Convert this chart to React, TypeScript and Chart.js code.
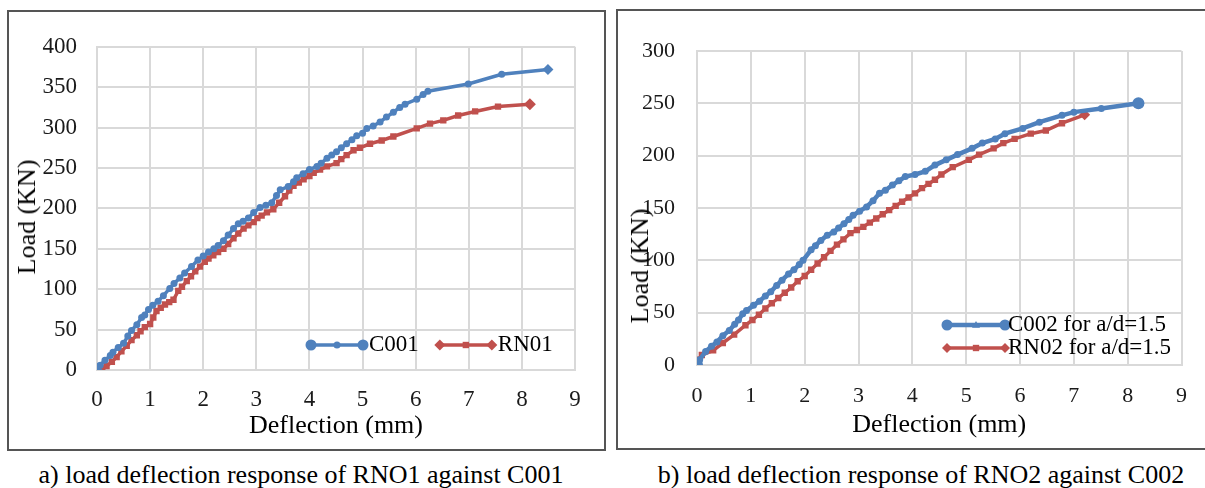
import React, { useEffect, useRef } from 'react';
import { Chart, registerables } from 'chart.js';

Chart.register(...registerables);

const FONT = '"Liberation Serif", "Times New Roman", serif';

// ---------- Chart a) RN01 against C001 ----------
const c001Deflection = [0, 0.06, 0.15, 0.25, 0.3, 0.4, 0.5, 0.58, 0.65, 0.75, 0.84, 0.9, 0.97, 1.05, 1.15, 1.25, 1.37, 1.45, 1.56, 1.65, 1.78, 1.9, 2.0, 2.1, 2.2, 2.28, 2.38, 2.47, 2.57, 2.66, 2.75, 2.85, 2.95, 3.07, 3.18, 3.29, 3.38, 3.45, 3.6, 3.7, 3.76, 3.88, 4.0, 4.14, 4.22, 4.33, 4.42, 4.51, 4.6, 4.7, 4.8, 4.89, 5.0, 5.08, 5.2, 5.33, 5.45, 5.58, 5.7, 5.8, 6.02, 6.14, 6.23, 6.99, 7.62, 8.49];
const c001Load = [0, 6, 12, 18, 22, 28, 33, 42, 49, 56, 65, 68, 75, 80, 85, 92, 101, 107, 114, 120, 128, 136, 141, 146, 150, 154, 160, 167, 175, 181, 184, 188, 195, 201, 204, 207, 216, 223, 227, 233, 238, 243, 248, 252, 256, 262, 266, 270, 275, 280, 285, 290, 293, 299, 302, 307, 313, 319, 325, 329, 335, 341, 345, 354, 366, 372];
const rn01Deflection = [0, 0.1, 0.18, 0.28, 0.37, 0.46, 0.56, 0.65, 0.75, 0.82, 0.9, 1.0, 1.06, 1.12, 1.2, 1.28, 1.36, 1.44, 1.53, 1.6, 1.69, 1.77, 1.85, 1.94, 2.03, 2.1, 2.19, 2.28, 2.38, 2.47, 2.57, 2.66, 2.76, 2.85, 2.95, 3.02, 3.1, 3.2, 3.32, 3.43, 3.54, 3.62, 3.7, 3.8, 3.89, 4.0, 4.08, 4.2, 4.33, 4.51, 4.6, 4.7, 4.83, 4.95, 5.14, 5.36, 5.58, 6.02, 6.27, 6.52, 6.8, 7.12, 7.55, 8.15];
const rn01Load = [0, 2, 5, 10, 16, 23, 30, 37, 43, 48, 53, 57, 65, 73, 77, 81, 84, 87, 98, 103, 110, 116, 122, 128, 134, 138, 142, 146, 150, 156, 163, 169, 175, 179, 183, 188, 191, 195, 199, 207, 215, 222, 228, 232, 236, 240, 244, 248, 252, 256, 261, 266, 272, 275, 280, 284, 289, 299, 305, 309, 315, 320, 326, 329];

// ---------- Chart b) RN02 against C002 ----------
const c002Deflection = [0, 0.05, 0.16, 0.27, 0.37, 0.48, 0.6, 0.7, 0.77, 0.85, 0.92, 1.05, 1.16, 1.27, 1.37, 1.48, 1.58, 1.7, 1.8, 1.9, 1.97, 2.12, 2.2, 2.3, 2.42, 2.54, 2.63, 2.73, 2.82, 2.9, 3.02, 3.15, 3.27, 3.39, 3.5, 3.63, 3.75, 3.87, 4.05, 4.24, 4.42, 4.63, 4.84, 5.11, 5.3, 5.54, 5.72, 6.05, 6.36, 6.78, 7.0, 7.51, 8.2];
const c002Load = [0, 5, 13, 18, 22, 28, 33, 39, 43, 49, 52, 57, 61, 66, 70, 76, 81, 87, 91, 96, 100, 110, 114, 119, 124, 127, 131, 135, 139, 143, 147, 151, 157, 164, 167, 172, 176, 180, 182, 185, 191, 196, 201, 207, 212, 216, 221, 226, 232, 238.5, 241.6, 245, 250];
const rn02Deflection = [0, 0.03, 0.09, 0.3, 0.48, 0.69, 0.9, 1.03, 1.15, 1.27, 1.39, 1.51, 1.63, 1.75, 1.87, 2.0, 2.12, 2.24, 2.36, 2.48, 2.6, 2.72, 2.85, 2.97, 3.09, 3.21, 3.33, 3.45, 3.57, 3.69, 3.81, 3.93, 4.05, 4.18, 4.3, 4.42, 4.54, 4.75, 5.05, 5.24, 5.51, 5.69, 5.9, 6.2, 6.48, 6.78, 7.2];
const rn02Load = [0, 5, 9.5, 14, 21, 29, 38, 43, 48, 54, 59, 64, 69, 74, 80, 85, 91, 97, 103, 109, 115, 120, 126, 129, 132, 136, 140, 144, 148, 152, 156, 160, 164, 169, 173, 177, 182, 189, 196, 201, 207, 212, 216, 221, 224, 231, 239];

const seriesLabelsA = ['C001', 'RN01'];
const seriesLabelsB = ['C002 for a/d=1.5', 'RN02 for a/d=1.5'];
const xAxisTitle = 'Deflection (mm)';
const yAxisTitle = 'Load (KN)';
const captionA = 'a) load deflection response of RNO1 against C001';
const captionB = 'b) load deflection response of RNO2 against C002';

const BLUE = '#4F81BD';
const RED = '#C0504D';
const GRID = '#D9D9D9';

const toPoints = (xs: number[], ys: number[]) => xs.map((x, i) => ({ x, y: ys[i] }));

function drawMarker(ctx: CanvasRenderingContext2D, style: string, x: number, y: number, r: number, color: string) {
  ctx.save();
  ctx.fillStyle = color;
  ctx.beginPath();
  if (style === 'circle') {
    ctx.arc(x, y, r, 0, Math.PI * 2);
  } else if (style === 'rectRot') {
    ctx.moveTo(x, y - r);
    ctx.lineTo(x + r, y);
    ctx.lineTo(x, y + r);
    ctx.lineTo(x - r, y);
    ctx.closePath();
  } else if (style === 'triangle') {
    ctx.moveTo(x, y - r);
    ctx.lineTo(x + r, y + r * 0.7);
    ctx.lineTo(x - r, y + r * 0.7);
    ctx.closePath();
  } else {
    const s = r * Math.SQRT1_2;
    ctx.rect(x - s, y - s, 2 * s, 2 * s);
  }
  ctx.fill();
  ctx.restore();
}

const insideLegend = {
  id: 'insideLegend',
  afterDraw(chart: any, _args: any, opts: any) {
    if (!opts || !opts.items) return;
    const ctx: CanvasRenderingContext2D = chart.ctx;
    const datasets = chart.data.datasets;
    ctx.save();
    ctx.font = `${opts.fontSize}px ${FONT}`;
    ctx.textBaseline = 'middle';
    ctx.textAlign = 'left';
    let x = opts.x;
    let y = opts.y;
    datasets.forEach((d: any, i: number) => {
      const item = opts.items[i];
      const x0 = x;
      const x1 = x + opts.lineLength;
      ctx.strokeStyle = d.borderColor;
      ctx.lineWidth = d.borderWidth;
      ctx.beginPath();
      ctx.moveTo(x0, y);
      ctx.lineTo(x1, y);
      ctx.stroke();
      drawMarker(ctx, item.cap, x0, y, item.capRadius, d.borderColor);
      drawMarker(ctx, item.cap, x1, y, item.capRadius, d.borderColor);
      drawMarker(ctx, item.mid, (x0 + x1) / 2, y, item.midRadius, d.borderColor);
      ctx.fillStyle = opts.color;
      const tx = x1 + opts.gap;
      ctx.fillText(d.label, tx, y);
      const w = ctx.measureText(d.label).width;
      if (opts.direction === 'row') {
        x = tx + w + opts.itemGap;
      } else {
        y += opts.rowHeight;
      }
    });
    ctx.restore();
  },
};

function makeDataset(label: string, xs: number[], ys: number[], color: string, width: number, mid: string, midR: number, cap: string, capR: number) {
  const n = xs.length;
  const isEnd = (c: any) => c.dataIndex === 0 || c.dataIndex === n - 1;
  return {
    label,
    data: toPoints(xs, ys),
    borderColor: color,
    backgroundColor: color,
    borderWidth: width,
    showLine: true,
    tension: 0,
    pointStyle: (c: any) => (isEnd(c) ? cap : mid),
    pointRadius: (c: any) => (isEnd(c) ? capR : midR),
    pointBorderWidth: 0,
    pointBackgroundColor: color,
  };
}

interface ChartSpec {
  yWidth: number;
  xHeight: number;
  padding: { left: number; top: number; right: number; bottom: number };
  yMax: number;
  tickSize: number;
  xTickPad: number;
  yTickPad: number;
  xTitlePad: number;
  legend: any;
  datasets: any[];
}

function makeConfig(spec: ChartSpec): any {
  const tickFont = { size: spec.tickSize, family: FONT };
  return {
    type: 'scatter',
    data: { datasets: spec.datasets },
    plugins: [insideLegend],
    options: {
      animation: false,
      responsive: false,
      devicePixelRatio: 1,
      events: [],
      layout: { padding: spec.padding },
      plugins: {
        legend: { display: false },
        tooltip: { enabled: false },
        title: { display: false },
        insideLegend: spec.legend,
      },
      scales: {
        x: {
          type: 'linear',
          min: 0,
          max: 9,
          afterFit: (s: any) => { s.height = spec.xHeight; },
          ticks: { stepSize: 1, autoSkip: false, maxRotation: 0, font: tickFont, color: '#1a1a1a', padding: spec.xTickPad },
          grid: { color: GRID, lineWidth: 2, drawTicks: false },
          border: { color: GRID, width: 2 },
          title: { display: true, text: xAxisTitle, color: '#000', font: { size: 26, family: FONT }, padding: { top: 0, bottom: spec.xTitlePad } },
        },
        y: {
          type: 'linear',
          min: 0,
          max: spec.yMax,
          afterFit: (s: any) => { s.width = spec.yWidth; },
          ticks: { stepSize: 50, font: tickFont, color: '#1a1a1a', padding: spec.yTickPad },
          grid: { color: GRID, lineWidth: 2, drawTicks: false },
          border: { color: GRID, width: 2 },
          title: { display: false },
        },
      },
    },
  };
}

export default function App() {
  const refA = useRef<HTMLCanvasElement>(null);
  const refB = useRef<HTMLCanvasElement>(null);

  useEffect(() => {
    Chart.defaults.font.family = FONT;
    const chartA = new Chart(refA.current as HTMLCanvasElement, makeConfig({
      yWidth: 87,
      xHeight: 78,
      padding: { left: 0, top: 29, right: 28, bottom: 0 },
      yMax: 400,
      tickSize: 23,
      xTickPad: 16,
      yTickPad: 20,
      xTitlePad: 6,
      legend: {
        x: 301, y: 332, lineLength: 52, gap: 6, itemGap: 21, direction: 'row', rowHeight: 0, fontSize: 23, color: '#000',
        items: [
          { cap: 'circle', capRadius: 5.5, mid: 'circle', midRadius: 3.5 },
          { cap: 'rectRot', capRadius: 5.5, mid: 'rect', midRadius: 4.5 },
        ],
      },
      datasets: [
        makeDataset(seriesLabelsA[0], c001Deflection, c001Load, BLUE, 3.5, 'circle', 3.5, 'rectRot', 5.5),
        makeDataset(seriesLabelsA[1], rn01Deflection, rn01Load, RED, 3.5, 'rect', 4.5, 'rectRot', 6),
      ],
    }));
    const chartB = new Chart(refB.current as HTMLCanvasElement, makeConfig({
      yWidth: 78,
      xHeight: 83,
      padding: { left: 0, top: 39, right: 13, bottom: 0 },
      yMax: 300,
      tickSize: 22,
      xTickPad: 18,
      yTickPad: 22,
      xTitlePad: 7,
      legend: {
        x: 328, y: 313, lineLength: 58, gap: 3, itemGap: 0, direction: 'column', rowHeight: 23, fontSize: 23, color: '#000',
        items: [
          { cap: 'circle', capRadius: 5.5, mid: 'triangle', midRadius: 4 },
          { cap: 'rectRot', capRadius: 5, mid: 'rect', midRadius: 4.5 },
        ],
      },
      datasets: [
        makeDataset(seriesLabelsB[0], c002Deflection, c002Load, BLUE, 4.5, 'circle', 3.5, 'circle', 6),
        makeDataset(seriesLabelsB[1], rn02Deflection, rn02Load, RED, 3.5, 'rect', 4.5, 'rectRot', 5.5),
      ],
    }));
    return () => {
      chartA.destroy();
      chartB.destroy();
    };
  }, []);

  const yTitleStyle = (cx: number, cy: number): React.CSSProperties => ({
    position: 'absolute',
    left: cx,
    top: cy,
    transform: 'translate(-50%, -50%) rotate(-90deg)',
    whiteSpace: 'nowrap',
    fontSize: 26,
    lineHeight: '26px',
    color: '#000',
    fontFamily: FONT,
  });

  const captionStyle = (cx: number): React.CSSProperties => ({
    position: 'absolute',
    left: cx - 400,
    width: 800,
    top: 462,
    textAlign: 'center',
    fontSize: 26,
    lineHeight: '26px',
    color: '#000',
    fontFamily: FONT,
    whiteSpace: 'nowrap',
  });

  return (
    <div style={{ position: 'absolute', left: 0, top: 0, width: 1205, height: 488, overflow: 'hidden', background: '#fff', fontFamily: FONT }}>
      <div style={{ position: 'absolute', left: 7, top: 10, width: 599, height: 441, border: '2px solid #555', boxSizing: 'border-box' }} />
      <div style={{ position: 'absolute', left: 616, top: 9, width: 620, height: 441, border: '2px solid #555', boxSizing: 'border-box' }} />
      <canvas ref={refA} width={593} height={435} style={{ position: 'absolute', left: 10, top: 13, display: 'block' }} />
      <canvas ref={refB} width={586} height={436} style={{ position: 'absolute', left: 619, top: 12, display: 'block' }} />
      <div style={yTitleStyle(27, 217)}>{yAxisTitle}</div>
      <div style={yTitleStyle(640, 266)}>{yAxisTitle}</div>
      <div style={captionStyle(301)}>{captionA}</div>
      <div style={captionStyle(921)}>{captionB}</div>
    </div>
  );
}
